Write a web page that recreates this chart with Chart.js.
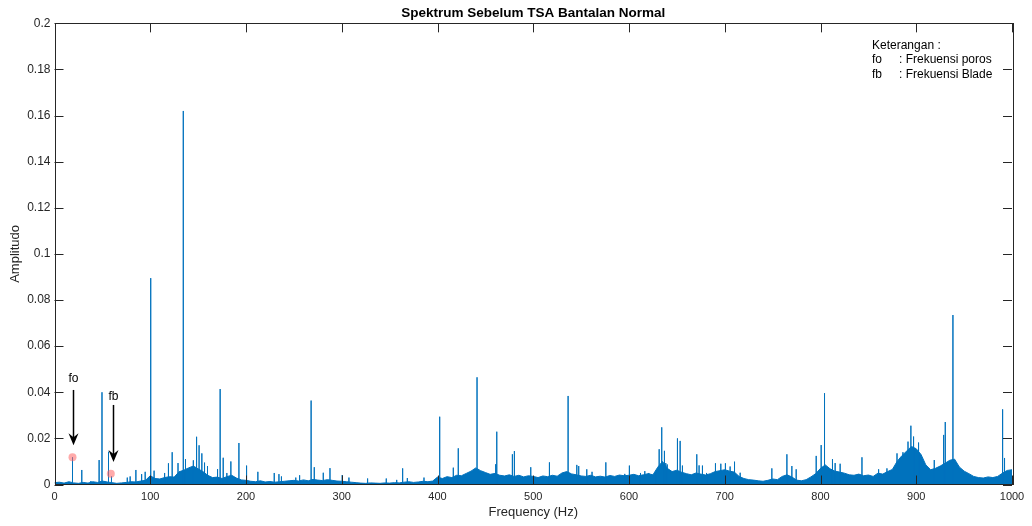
<!DOCTYPE html>
<html>
<head>
<meta charset="utf-8">
<title>Spektrum Sebelum TSA Bantalan Normal</title>
<script src="https://cdn.jsdelivr.net/npm/chart.js@4.4.1/dist/chart.umd.min.js"></script>
<style>
  html, body { margin: 0; padding: 0; background: #fff; }
  #wrap { width: 1032px; height: 526px; }
</style>
</head>
<body>
<div id="wrap"><canvas id="myChart" width="1032" height="526"></canvas></div>
<script>
// noise floor, one value every 5 Hz from 0 to 1000 Hz
const noiseLevel = [
  0.0008, 0.0010, 0.0006, 0.0012, 0.0007, 0.0005, 0.0009, 0.0006, 0.0012, 0.0009,
  0.0015, 0.0011, 0.0008, 0.0005, 0.0007, 0.0009, 0.0012, 0.0011, 0.0015, 0.0018,
  0.0038, 0.0026, 0.0024, 0.0030, 0.0034, 0.0032, 0.0055, 0.0062, 0.0072, 0.0080,
  0.0068, 0.0056, 0.0040, 0.0030, 0.0032, 0.0026, 0.0034, 0.0040, 0.0028, 0.0020,
  0.0018, 0.0014, 0.0012, 0.0016, 0.0011, 0.0013, 0.0010, 0.0012, 0.0014, 0.0016,
  0.0018, 0.0015, 0.0020, 0.0016, 0.0022, 0.0019, 0.0017, 0.0021, 0.0018, 0.0015,
  0.0014, 0.0012, 0.0010, 0.0008, 0.0006, 0.0005, 0.0007, 0.0006, 0.0005, 0.0007,
  0.0006, 0.0008, 0.0007, 0.0010, 0.0012, 0.0009, 0.0011, 0.0014, 0.0012, 0.0015,
  0.0032, 0.0026, 0.0034, 0.0030, 0.0040, 0.0038, 0.0048, 0.0058, 0.0072, 0.0060,
  0.0052, 0.0044, 0.0048, 0.0040, 0.0037, 0.0042, 0.0035, 0.0040, 0.0033, 0.0038,
  0.0035, 0.0030, 0.0037, 0.0034, 0.0040, 0.0036, 0.0050, 0.0056, 0.0046, 0.0042,
  0.0037, 0.0035, 0.0040, 0.0033, 0.0036, 0.0032, 0.0039, 0.0035, 0.0041, 0.0038,
  0.0040, 0.0044, 0.0038, 0.0042, 0.0047, 0.0042, 0.0075, 0.0100, 0.0070, 0.0056,
  0.0062, 0.0053, 0.0047, 0.0042, 0.0050, 0.0045, 0.0041, 0.0047, 0.0056, 0.0060,
  0.0064, 0.0058, 0.0054, 0.0035, 0.0026, 0.0021, 0.0019, 0.0016, 0.0014, 0.0018,
  0.0024, 0.0021, 0.0035, 0.0042, 0.0033, 0.0019, 0.0016, 0.0021, 0.0033, 0.0047,
  0.0070, 0.0085, 0.0068, 0.0058, 0.0054, 0.0049, 0.0042, 0.0040, 0.0045, 0.0038,
  0.0041, 0.0035, 0.0049, 0.0045, 0.0056, 0.0065, 0.0100, 0.0125, 0.0145, 0.0165,
  0.0155, 0.0130, 0.0085, 0.0064, 0.0070, 0.0080, 0.0092, 0.0105, 0.0110, 0.0076,
  0.0058, 0.0047, 0.0035, 0.0030, 0.0028, 0.0033, 0.0030, 0.0035, 0.0049, 0.0061,
  0.0064
];

// spectral lines (Hz) and their amplitudes
const peakFreq = [
  18.8, 28.5, 38, 46.6, 49.6, 56.4, 59.5, 76, 79, 85, 91, 94.7,
  100.5, 104, 115, 119, 122.9, 129, 134.5, 136.8, 141, 145, 148.4, 151,
  153.9, 156.7, 159.8, 170.3, 173, 176.2, 180, 184.2, 192.6, 200.6, 212.4, 229.5,
  234.4, 237, 252, 256, 268, 271.3, 280.7, 287.7, 300.5, 307.5, 327, 346.5,
  357.4, 363.6, 368.5, 385.9, 402.3, 410.6, 416.5, 421.7, 441.3, 460.8, 461.9, 478.2,
  480.3, 497.4, 516.9, 536.4, 545.5, 547.5, 555.9, 561.4, 575.8, 595.6, 600.4, 612,
  616.5, 620.7, 628.7, 631.5, 634.2, 637, 638.4, 639.9, 650.6, 653.4, 655.8, 670.8,
  673.2, 676.7, 681, 690.3, 695.9, 700.7, 705.6, 710.2, 716.1, 749.2, 764.9, 770.1,
  774.6, 795.5, 800.7, 804.2, 812.5, 815.3, 820.5, 843.3, 860.7, 869.4, 879.9, 886.1,
  891.4, 894.4, 897.2, 902.4, 918.8, 928.6, 930.3, 938.3, 990.2, 992.2
];
const peakAmp = [
  0.0118, 0.0063, 0.0015, 0.0106, 0.0400, 0.0142, 0.0035, 0.0030, 0.0035, 0.0063, 0.0045, 0.0055,
  0.0895, 0.0060, 0.0050, 0.0092, 0.0140, 0.0093, 0.1620, 0.0110, 0.0075, 0.0105, 0.0207, 0.0170,
  0.0135, 0.0095, 0.0080, 0.0067, 0.0414, 0.0116, 0.0050, 0.0100, 0.0180, 0.0082, 0.0055, 0.0050,
  0.0045, 0.0035, 0.0030, 0.0040, 0.0364, 0.0075, 0.0051, 0.0071, 0.0041, 0.0030, 0.0026, 0.0026,
  0.0020, 0.0070, 0.0028, 0.0030, 0.0294, 0.0030, 0.0073, 0.0157, 0.0465, 0.0088, 0.0229, 0.0131,
  0.0145, 0.0075, 0.0096, 0.0384, 0.0085, 0.0080, 0.0066, 0.0055, 0.0096, 0.0046, 0.0082, 0.0050,
  0.0058, 0.0050, 0.0061, 0.0153, 0.0248, 0.0146, 0.0093, 0.0087, 0.0200, 0.0189, 0.0082, 0.0131,
  0.0083, 0.0082, 0.0050, 0.0092, 0.0090, 0.0092, 0.0078, 0.0099, 0.0051, 0.0070, 0.0131, 0.0080,
  0.0066, 0.0124, 0.0171, 0.0396, 0.0110, 0.0093, 0.0090, 0.0118, 0.0066, 0.0070, 0.0135, 0.0140,
  0.0186, 0.0255, 0.0208, 0.0182, 0.0106, 0.0215, 0.0271, 0.0735, 0.0326, 0.0115
];

// marked frequencies: fo (shaft) and fb (blade)
const markLabels = ["fo", "fb"];
const markFreq = [18.8, 58.8];
const markAmp = [0.0118, 0.0047];

const xTickLabels = ["0", "100", "200", "300", "400", "500", "600", "700", "800", "900", "1000"];
const yTickLabels = ["0", "0.02", "0.04", "0.06", "0.08", "0.1", "0.12", "0.14", "0.16", "0.18", "0.2"];

const legendLines = [["Keterangan :", ""], ["fo", ": Frekuensi poros"], ["fb", ": Frekuensi Blade"]];

const FONT = "'Liberation Sans', Arial, Helvetica, sans-serif";
const AXIS = "#262626";
const BLUE = "#0072BD";

const noiseData = noiseLevel.map((v, i) => ({ x: i * 5, y: v }));

const peakData = [];
peakFreq.forEach((f, i) => {
  peakData.push({ x: f, y: 0 }, { x: f, y: peakAmp[i] }, { x: f, y: 0 }, { x: f, y: null });
});

const markData = markFreq.map((f, i) => ({ x: f, y: markAmp[i] }));

// box, inward ticks, arrows and the text box
const decorations = {
  id: "decorations",
  afterDraw(chart) {
    const ctx = chart.ctx;
    const a = chart.chartArea;
    const xs = chart.scales.x;
    const ys = chart.scales.y;
    const tl = 9;
    ctx.save();
    ctx.strokeStyle = AXIS;
    ctx.lineWidth = 1;
    ctx.beginPath();
    xTickLabels.forEach((t, i) => {
      const px = Math.round(xs.getPixelForValue(i * 100)) + 0.5;
      ctx.moveTo(px, a.bottom); ctx.lineTo(px, a.bottom - tl);
      ctx.moveTo(px, a.top); ctx.lineTo(px, a.top + tl);
    });
    yTickLabels.forEach((t, i) => {
      const py = Math.round(ys.getPixelForValue(i * 0.02)) + 0.5;
      ctx.moveTo(a.left, py); ctx.lineTo(a.left + tl, py);
      ctx.moveTo(a.right, py); ctx.lineTo(a.right - tl, py);
    });
    ctx.stroke();
    ctx.strokeRect(Math.round(a.left) + 0.5, Math.round(a.top) + 0.5,
      Math.round(a.right - a.left), Math.round(a.bottom - a.top));

    // arrows pointing at the marked lines
    const arrows = [
      { f: 19.5, from: 0.0410, to: 0.0170, text: 0.0460 },
      { f: 61.3, from: 0.0345, to: 0.0098, text: 0.0380 }
    ];
    ctx.fillStyle = "#000";
    ctx.strokeStyle = "#000";
    ctx.font = "12px " + FONT;
    ctx.textAlign = "center";
    ctx.textBaseline = "middle";
    arrows.forEach((ar, i) => {
      const x = Math.round(xs.getPixelForValue(ar.f)) + 0.5;
      const y0 = ys.getPixelForValue(ar.from);
      const y1 = ys.getPixelForValue(ar.to);
      ctx.lineWidth = 1.5;
      ctx.beginPath();
      ctx.moveTo(x, y0);
      ctx.lineTo(x, y1 - 6);
      ctx.stroke();
      ctx.beginPath();
      ctx.moveTo(x, y1);
      ctx.lineTo(x - 5, y1 - 12);
      ctx.lineTo(x, y1 - 8);
      ctx.lineTo(x + 5, y1 - 12);
      ctx.closePath();
      ctx.fill();
      ctx.fillText(markLabels[i], x, ys.getPixelForValue(ar.text));
    });

    // legend text box in the upper right
    ctx.textAlign = "left";
    ctx.fillStyle = "#000";
    const lx = a.right - 140;
    legendLines.forEach((ln, i) => {
      const ly = a.top + 22 + i * 14.5;
      ctx.fillText(ln[0], lx, ly);
      if (ln[1]) ctx.fillText(ln[1], lx + 27, ly);
    });
    ctx.restore();
  }
};

new Chart("myChart", {
  type: "line",
  data: {
    datasets: [
      {
        label: "marks",
        data: markData,
        showLine: false,
        pointRadius: 4,
        pointBorderWidth: 0,
        pointBackgroundColor: "rgba(255, 100, 100, 0.55)",
        pointBorderColor: "rgba(255, 100, 100, 0.55)"
      },
      {
        label: "peaks",
        data: peakData,
        borderColor: BLUE,
        borderWidth: 1,
        pointRadius: 0,
        spanGaps: false,
        tension: 0
      },
      {
        label: "noise",
        data: noiseData,
        borderColor: BLUE,
        backgroundColor: BLUE,
        borderWidth: 1,
        pointRadius: 0,
        fill: "origin",
        tension: 0
      }
    ]
  },
  options: {
    responsive: false,
    animation: false,
    layout: { padding: { top: 0, right: 20, bottom: 0, left: 0 } },
    plugins: {
      legend: { display: false },
      tooltip: { enabled: false },
      title: {
        display: true,
        fullSize: false,
        text: "Spektrum Sebelum TSA Bantalan Normal",
        color: "#000",
        font: { family: FONT, size: 13.5, weight: "bold", lineHeight: 1.1 },
        padding: { top: 6, bottom: 2.5 }
      }
    },
    scales: {
      x: {
        type: "linear",
        min: 0,
        max: 1000,
        grid: { display: false, drawTicks: false },
        border: { display: false },
        ticks: {
          stepSize: 100,
          padding: 6,
          color: AXIS,
          maxRotation: 0,
          font: { family: FONT, size: 11 },
          callback: (v) => xTickLabels[Math.round(v / 100)]
        },
        title: {
          display: true,
          text: "Frequency (Hz)",
          color: AXIS,
          font: { family: FONT, size: 13 },
          padding: { top: 0, bottom: 6 }
        },
        afterFit: (s) => { s.height = 41.5; }
      },
      y: {
        type: "linear",
        min: 0,
        max: 0.2,
        grid: { display: false, drawTicks: false },
        border: { display: false },
        ticks: {
          stepSize: 0.02,
          padding: 4,
          color: AXIS,
          font: { family: FONT, size: 12 },
          callback: (v) => yTickLabels[Math.round(v / 0.02)]
        },
        title: {
          display: true,
          text: "Amplitudo",
          color: AXIS,
          font: { family: FONT, size: 13 },
          padding: { top: 8, bottom: 0 }
        },
        afterFit: (s) => { s.width = 54.5; }
      }
    }
  },
  plugins: [decorations]
});
</script>
</body>
</html>
